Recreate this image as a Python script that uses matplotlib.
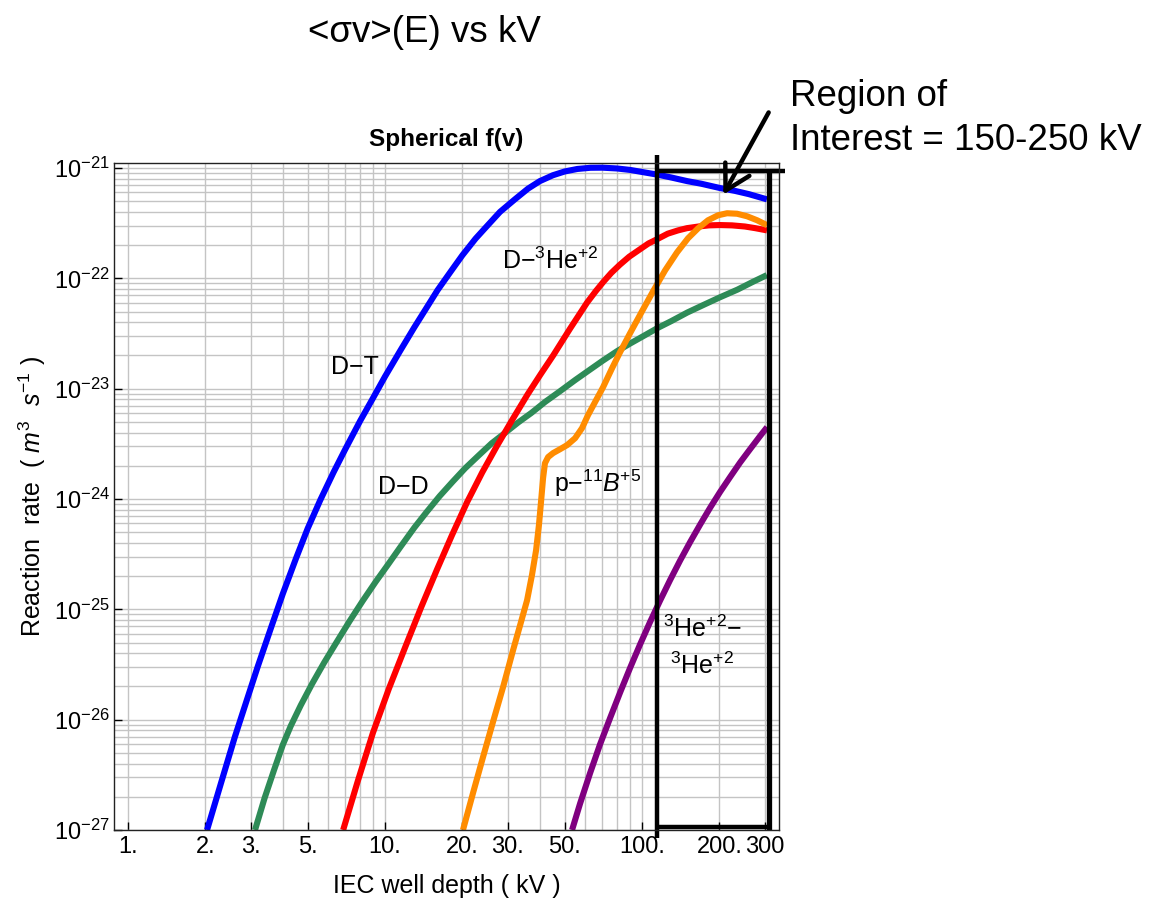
import matplotlib
matplotlib.use('Agg')
import matplotlib.pyplot as plt
from matplotlib.ticker import FixedLocator, FixedFormatter, NullFormatter
from matplotlib.patches import FancyArrowPatch
from matplotlib.transforms import blended_transform_factory

plt.rcParams['font.family'] = ['Liberation Sans', 'DejaVu Sans']
plt.rcParams['mathtext.fontset'] = 'custom'
plt.rcParams['mathtext.rm'] = 'Liberation Sans'
plt.rcParams['mathtext.it'] = 'Liberation Sans:italic'
plt.rcParams['mathtext.bf'] = 'Liberation Sans:bold'

# ---------------- data ----------------
# D-T
dt_kv = [2.03, 2.3, 2.6, 2.9, 3.2, 3.6, 4.0, 4.5, 5.0, 5.6, 6.3, 7.0, 8.0, 9.0, 10, 11.5, 13,
         14.5, 16, 18, 20, 22.5, 25, 28, 32, 36, 40, 45, 50, 56, 63, 70, 80, 90, 100, 115,
         130, 150, 170, 200, 230, 260, 306]
dt_rate = [1.0e-27, 2.66e-27, 6.9e-27, 1.51e-26, 3.05e-26, 6.8e-26, 1.38e-25, 2.88e-25,
           5.4e-25, 9.8e-25, 1.74e-24, 2.82e-24, 5.1e-24, 8.3e-24, 1.29e-23, 2.24e-23,
           3.6e-23, 5.4e-23, 7.8e-23, 1.15e-22, 1.62e-22, 2.29e-22, 3.0e-22, 4.0e-22,
           5.2e-22, 6.5e-22, 7.6e-22, 8.6e-22, 9.3e-22, 9.8e-22, 1.005e-21, 1.007e-21,
           9.9e-22, 9.6e-22, 9.2e-22, 8.7e-22, 8.2e-22, 7.6e-22, 7.2e-22, 6.6e-22, 6.2e-22,
           5.8e-22, 5.2e-22]

# D-D
dd_kv = [3.12, 3.4, 3.7, 4.0, 4.3, 4.7, 5.2, 5.8, 6.5, 7.3, 8.2, 9.2, 10.3, 11.5, 13, 14.5,
         16.3, 18.3, 20.5, 23, 26, 29, 33, 37, 42, 48, 55, 62, 70, 80, 90, 100, 115, 130,
         150, 175, 200, 235, 270, 306]
dd_rate = [1.0e-27, 1.95e-27, 3.5e-27, 5.9e-27, 8.8e-27, 1.35e-26, 2.11e-26, 3.3e-26,
           5.1e-26, 7.9e-26, 1.2e-25, 1.78e-25, 2.57e-25, 3.7e-25, 5.5e-25, 7.6e-25,
           1.06e-24, 1.43e-24, 1.9e-24, 2.45e-24, 3.2e-24, 3.9e-24, 4.95e-24, 6.0e-24,
           7.6e-24, 9.5e-24, 1.2e-23, 1.46e-23, 1.78e-23, 2.19e-23, 2.57e-23, 2.95e-23,
           3.55e-23, 4.1e-23, 4.9e-23, 5.8e-23, 6.7e-23, 7.9e-23, 9.3e-23, 1.07e-22]

# D-3He
dhe_kv = [6.87, 7.85, 8.97, 10.35, 11.97, 13.8, 15.92, 18.2, 20.84, 23.88, 27.3, 31.3, 35.9,
          40.3, 45.1, 52.5, 61.1, 66.1, 70.8, 75.9, 82.0, 89.1, 97.7, 105.9, 114.3, 125.9,
          138.0, 149.6, 166.0, 182.0, 200.9, 223.9, 251.2, 275.4, 306.2]
dhe_rate = [1.0e-27, 2.82e-27, 7.59e-27, 1.91e-26, 4.52e-26, 1.035e-25, 2.29e-25, 4.68e-25,
            9.33e-25, 1.74e-24, 3.05e-24, 5.25e-24, 8.91e-24, 1.35e-23, 2.0e-23, 3.51e-23,
            6.03e-23, 7.67e-23, 9.33e-23, 1.12e-22, 1.33e-22, 1.57e-22, 1.82e-22, 2.07e-22,
            2.26e-22, 2.54e-22, 2.72e-22, 2.85e-22, 2.95e-22, 3.02e-22, 3.04e-22, 3.02e-22,
            2.95e-22, 2.85e-22, 2.72e-22]

# p-11B
pb_kv = [20.1, 22.0, 24.06, 26.3, 28.8, 31.5, 33.8, 35.7, 37.3, 38.7, 39.7, 40.5, 41.2, 41.9,
         43.1, 45.1, 48.0, 51.1, 54.9, 58.4, 61.6, 65.6, 70.5, 76.4, 82.1, 89.8, 100, 110.4,
         122.9, 136.8, 151.0, 165.2, 180.6, 197.6, 214.2, 234.2, 256.3, 280.3, 306.5]
pb_rate = [1.0e-27, 2.17e-27, 4.59e-27, 9.53e-27, 1.98e-26, 4.28e-26, 7.67e-26, 1.21e-25,
           2.05e-25, 3.44e-25, 5.81e-25, 9.77e-25, 1.55e-24, 2.11e-24, 2.40e-24, 2.61e-24,
           2.83e-24, 3.08e-24, 3.56e-24, 4.39e-24, 5.75e-24, 7.55e-24, 1.03e-23, 1.53e-23,
           2.14e-23, 3.18e-23, 5.04e-23, 7.64e-23, 1.18e-22, 1.72e-22, 2.31e-22, 2.84e-22,
           3.36e-22, 3.73e-22, 3.89e-22, 3.85e-22, 3.65e-22, 3.36e-22, 3.03e-22]

# 3He-3He
hehe_kv = [53.4, 57.4, 62.8, 68.6, 75.1, 82.1, 89.8, 98.2, 107.4, 117.5, 128.5, 140.6, 153.8,
           168.2, 183.9, 201.2, 220.0, 240.6, 263.2, 287.8, 306.5]
hehe_rate = [1.0e-27, 1.74e-27, 3.29e-27, 5.96e-27, 1.035e-26, 1.76e-26, 2.94e-26, 4.80e-26,
             7.67e-26, 1.20e-25, 1.84e-25, 2.77e-25, 4.07e-25, 5.86e-25, 8.32e-25, 1.16e-24,
             1.58e-24, 2.14e-24, 2.83e-24, 3.72e-24, 4.48e-24]

x_ticks = [1, 2, 3, 5, 10, 20, 30, 50, 100, 200, 300]
x_tick_labels = ['1.', '2.', '3.', '5.', '10.', '20.', '30.', '50.', '100.', '200.', '300']
y_ticks = [1e-27, 1e-26, 1e-25, 1e-24, 1e-23, 1e-22, 1e-21]
y_tick_labels = [r'$10^{-27}$', r'$10^{-26}$', r'$10^{-25}$', r'$10^{-24}$',
                 r'$10^{-23}$', r'$10^{-22}$', r'$10^{-21}$']

# region-of-interest box edges (kV)
roi_left, roi_right, roi_top_end = 114, 312, 360

# ---------------- figure ----------------
fig = plt.figure(figsize=(11.49, 9.0), dpi=100)
ax = fig.add_axes([114 / 1149, 1 - 830 / 900, (779 - 114) / 1149, (830 - 163) / 900])
ax.set_xscale('log')
ax.set_yscale('log')
ax.set_xlim(0.882, 341)
ax.set_ylim(1e-27, 1.11e-21)

grid_x = [m * 10 ** e for e in range(0, 3) for m in range(1, 10)]
grid_y = [m * 10.0 ** e for e in range(-27, -21) for m in range(1, 10)] + [1e-21]
ax.xaxis.set_major_locator(FixedLocator(x_ticks))
ax.xaxis.set_major_formatter(FixedFormatter(x_tick_labels))
ax.xaxis.set_minor_locator(FixedLocator([g for g in grid_x if g not in x_ticks]))
ax.yaxis.set_major_locator(FixedLocator(y_ticks))
ax.yaxis.set_major_formatter(FixedFormatter(y_tick_labels))
ax.yaxis.set_minor_locator(FixedLocator([g for g in grid_y if g not in y_ticks]))
ax.xaxis.set_minor_formatter(NullFormatter())
ax.yaxis.set_minor_formatter(NullFormatter())
ax.grid(True, which='both', color='#c4c4c4', linewidth=1.0)
ax.set_axisbelow(True)
ax.tick_params(which='major', direction='in', length=6, width=1.0, labelsize=17, pad=4)
ax.tick_params(axis='y', which='major', labelsize=17, pad=3)
ax.tick_params(which='minor', length=0)
for s in ax.spines.values():
    s.set_color('#222222')
    s.set_linewidth(1.0)

lw = 4.4
style = dict(lw=lw, solid_capstyle='butt', solid_joinstyle='round')
ax.plot(dt_kv, dt_rate, color='#0000ff', **style)
ax.plot(dd_kv, dd_rate, color='#2e8b57', **style)
ax.plot(dhe_kv, dhe_rate, color='#ff0000', **style)
ax.plot(pb_kv, pb_rate, color='#ff8c00', **style)
ax.plot(hehe_kv, hehe_rate, color='#800080', **style)

# curve labels
lab = dict(fontsize=18, ha='center', va='center', color='black')
ax.text(7.64, 1.57e-23, 'D\u2212T', **lab)
ax.text(43.9, 1.45e-22, 'D\u2212$^{3}$He$^{+2}$', **lab)
ax.text(11.75, 1.28e-24, 'D\u2212D', **lab)
ax.text(66.8, 1.40e-24, 'p\u2212$^{11}$$\\it{B}$$^{+5}$', **lab)
ax.text(171, 6.6e-26, '$^{3}$He$^{+2}$\u2212', **lab)
ax.text(171, 3.1e-26, '$^{3}$He$^{+2}$', **lab)

ax.set_xlabel('IEC well depth ( kV )', fontsize=18, labelpad=12)
ax.set_ylabel('Reaction  rate  ( $\\it{m}^{3}$  $s^{-1}$ )', fontsize=18, labelpad=4)
ax.set_title('Spherical f(v)', fontsize=17.5, fontweight='bold', pad=12)

# region-of-interest box
tr = blended_transform_factory(ax.transData, ax.transAxes)
box = dict(color='black', lw=3.2, transform=tr, clip_on=False, solid_capstyle='butt')
ax.plot([roi_left, roi_left], [-0.012, 1.012], **box)
ax.plot([roi_right, roi_right], [0.0, 0.99], lw=3.8, color='black', transform=tr,
        clip_on=False, solid_capstyle='butt')
ax.plot([roi_left, roi_top_end], [0.988, 0.988], **box)
ax.plot([roi_left, roi_right], [0.0045, 0.0045], **box)

# annotation text and arrow
fig.text(424 / 1149, 1 - 32 / 900, '<\u03c3v>(E) vs kV', fontsize=26.5, ha='center', va='center')
fig.text(790 / 1149, 1 - 96 / 900, 'Region of', fontsize=26.5, ha='left', va='center')
fig.text(790 / 1149, 1 - 140 / 900, 'Interest = 150-250 kV', fontsize=26.5, ha='left', va='center')
fig.add_artist(FancyArrowPatch(
    (770 / 1149, 1 - 110 / 900), (722 / 1149, 1 - 197 / 900), transform=fig.transFigure,
    arrowstyle='->,head_length=0.8,head_width=0.45', color='black', lw=3.2,
    mutation_scale=22))

fig.savefig('out.png', dpi=100)
